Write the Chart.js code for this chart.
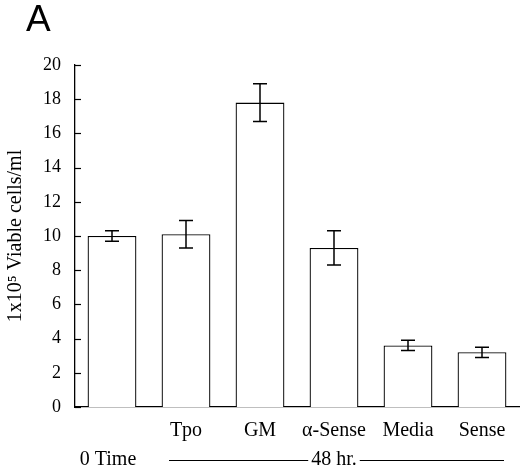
<!DOCTYPE html>
<html>
<head>
<meta charset="utf-8">
<script src="https://cdn.jsdelivr.net/npm/chart.js@4/dist/chart.umd.min.js"></script>
<style>
  html, body { margin: 0; padding: 0; background: #fff; }
  #wrap { width: 520px; height: 468px; }
</style>
</head>
<body>
<div id="wrap"><canvas id="chart"></canvas></div>
<script>
var categories = ['', 'Tpo', 'GM', '\u03b1-Sense', 'Media', 'Sense'];
var cells = [10.0, 10.1, 17.8, 9.3, 3.6, 3.2];
var errLow = [9.7, 9.3, 16.7, 8.3, 3.3, 2.9];
var errHigh = [10.3, 10.9, 18.9, 10.3, 3.9, 3.5];
var yTicks = [0, 2, 4, 6, 8, 10, 12, 14, 16, 18, 20];

var serif = '"Liberation Serif", "DejaVu Serif", serif';

// error bars, inward y ticks, panel letter and the "0 Time / 48 hr." row
var extras = {
    id: 'extras',
    afterDatasetsDraw: function (chart) {
        var ctx = chart.ctx;
        var y = chart.scales.y;
        var bars = chart.getDatasetMeta(0).data;
        ctx.save();
        ctx.strokeStyle = '#000';
        ctx.lineWidth = 1.5;
        for (var i = 0; i < bars.length; i++) {
            var x = bars[i].x;
            var top = y.getPixelForValue(errHigh[i]);
            var bot = y.getPixelForValue(errLow[i]);
            ctx.beginPath();
            ctx.moveTo(x, top); ctx.lineTo(x, bot);
            ctx.moveTo(x - 7, top); ctx.lineTo(x + 7, top);
            ctx.moveTo(x - 7, bot); ctx.lineTo(x + 7, bot);
            ctx.stroke();
        }
        ctx.restore();
    },
    afterDraw: function (chart) {
        var ctx = chart.ctx;
        var y = chart.scales.y;
        var xs = chart.scales.x;
        var left = chart.chartArea.left;
        ctx.save();
        ctx.strokeStyle = '#000';
        ctx.lineWidth = 1.2;
        yTicks.forEach(function (v) {
            var py = Math.round(y.getPixelForValue(v)) + 0.5;
            ctx.beginPath();
            ctx.moveTo(left, py);
            ctx.lineTo(left + 6, py);
            ctx.stroke();
        });

        ctx.fillStyle = '#000';
        ctx.font = '37px "Liberation Sans", Arial, sans-serif';
        ctx.textAlign = 'left';
        ctx.textBaseline = 'top';
        ctx.fillText('A', 26, 2);

        var rowY = 460;
        ctx.font = '20px ' + serif;
        ctx.textBaseline = 'middle';
        ctx.textAlign = 'center';
        ctx.fillText('0 Time', xs.getPixelForValue(0) - 4, rowY);

        var x1 = xs.getPixelForValue(1);
        var x5 = xs.getPixelForValue(5);
        var mid = (x1 + x5) / 2;
        var label = '48 hr.';
        ctx.fillText(label, mid, rowY);
        var half = ctx.measureText(label).width / 2 + 3;
        ctx.lineWidth = 1;
        ctx.beginPath();
        ctx.moveTo(x1 - 17, rowY + 0.5); ctx.lineTo(mid - half, rowY + 0.5);
        ctx.moveTo(mid + half, rowY + 0.5); ctx.lineTo(x5 + 22, rowY + 0.5);
        ctx.stroke();
        ctx.restore();
    }
};

new Chart(document.getElementById('chart'), {
    type: 'bar',
    data: {
        labels: categories,
        datasets: [{
            data: cells,
            backgroundColor: '#fff',
            borderColor: '#000',
            borderWidth: 1.3,
            barPercentage: 0.66,
            categoryPercentage: 1.0
        }]
    },
    options: {
        responsive: true,
        maintainAspectRatio: false,
        animation: false,
        layout: { padding: { top: 65, left: 4, right: 1, bottom: 0 } },
        plugins: {
            legend: { display: false },
            tooltip: { enabled: false }
        },
        scales: {
            x: {
                grid: { display: false },
                border: { display: true, color: '#000', width: 1.3 },
                ticks: { color: '#000', padding: 4, font: { family: serif, size: 20 } },
                afterFit: function (s) { s.height = 61; }
            },
            y: {
                min: 0,
                max: 20,
                grid: { display: false },
                border: { display: true, color: '#000', width: 1.3 },
                ticks: {
                    stepSize: 2,
                    color: '#000',
                    padding: 6,
                    font: { family: serif, size: 18 }
                },
                title: {
                    display: true,
                    text: '1x10\u2075 Viable cells/ml',
                    color: '#000',
                    padding: { top: 0, bottom: 6 },
                    font: { family: serif, size: 20 }
                },
                afterFit: function (s) { s.width = 71; }
            }
        }
    },
    plugins: [extras]
});
</script>
</body>
</html>
